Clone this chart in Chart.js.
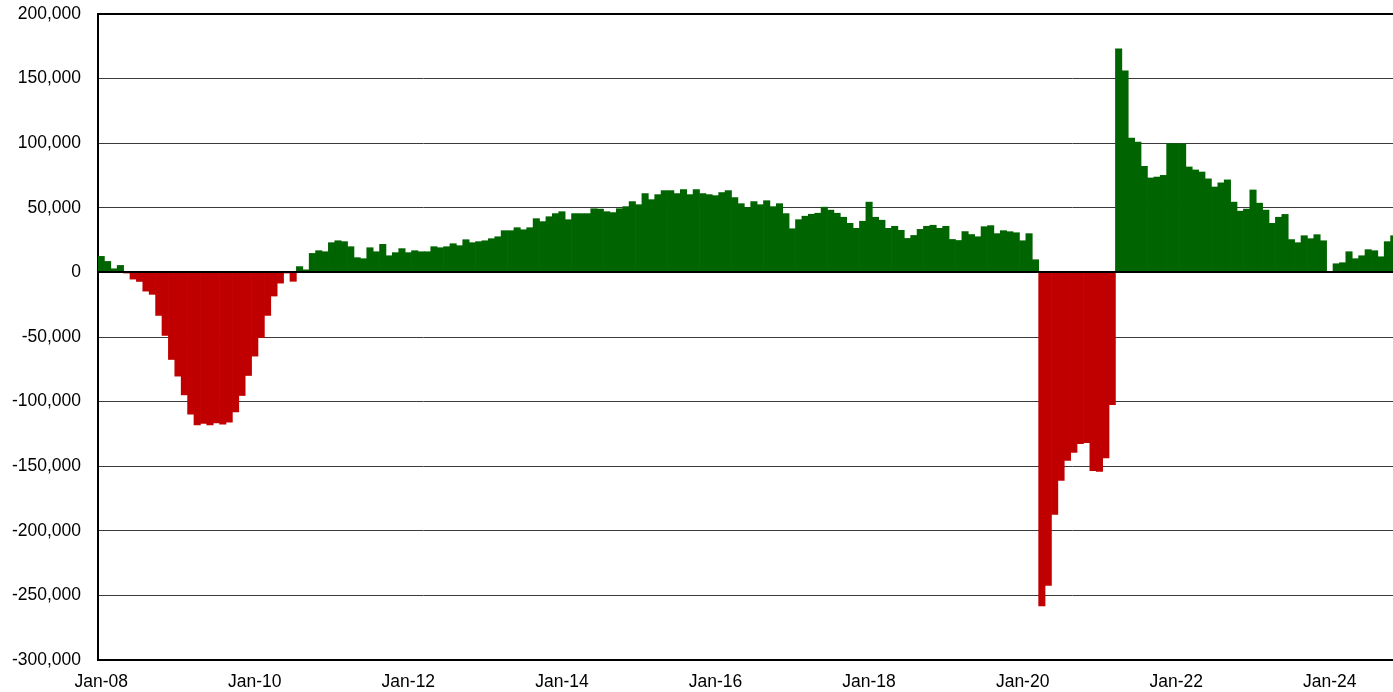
<!DOCTYPE html>
<html>
<head>
<meta charset="utf-8">
<script src="https://cdn.jsdelivr.net/npm/chart.js@4"></script>
<style>
  html, body { margin: 0; padding: 0; background: #fff; overflow: hidden; }
  #myChart { display: block; }
</style>
</head>
<body>
<canvas id="myChart" width="1397" height="692"></canvas>
<script>
// month labels, Jan-08 onwards (one bar per month)
var monthNames = ['Jan', 'Feb', 'Mar', 'Apr', 'May', 'Jun', 'Jul', 'Aug', 'Sep', 'Oct', 'Nov', 'Dec'];
var months = [];
for (var i = 0; i < 203; i++) {
    var yy = 8 + Math.floor(i / 12);
    months.push(monthNames[i % 12] + '-' + (yy < 10 ? '0' + yy : '' + yy));
}

// labels shown on the x axis
var tickLabels = ['Jan-08', 'Jan-10', 'Jan-12', 'Jan-14', 'Jan-16', 'Jan-18', 'Jan-20', 'Jan-22', 'Jan-24'];

// year-over-year change
var yoyChange = [
    12400, 8500, 2800, 5400, -500, -5200, -7000, -14500, -17000, -33300, -48800, -67400,
    -80300, -94800, -109800, -118000, -116800, -118000, -116500, -117500, -116000, -108000, -95300, -79800,
    -64800, -50400, -33300, -18300, -8300, -500, -6900, 4500, 2000, 14700, 16800, 16000,
    23000, 24500, 23800, 19900, 11400, 10600, 19100, 16000, 21700, 12900, 15300, 18400,
    15300, 16800, 16000, 16000, 19900, 19100, 19900, 22200, 20700, 25300, 23000, 23800,
    24500, 26100, 27600, 32300, 32300, 34600, 33000, 34600, 41600, 39300, 43100, 45500,
    47000, 40800, 45500, 45500, 45500, 49300, 49000, 47000, 46300, 49300, 50900, 54800,
    52400, 61000, 56300, 60200, 63300, 63300, 61000, 64100, 60200, 64100, 61000, 60200,
    59400, 61800, 63300, 57900, 53200, 50100, 54800, 52400, 55500, 50900, 53200, 45500,
    33800, 40800, 43500, 45000, 45800, 50500, 48200, 45800, 42700, 38000, 34100, 39600,
    54400, 42700, 40400, 34100, 35700, 32600, 26300, 28600, 33300, 35700, 36500, 34100,
    35700, 25500, 24700, 31600, 29300, 27600, 35400, 36200, 30000, 32300, 31500, 30700,
    24500, 30000, 9800, -258200, -242300, -187400, -161100, -145600, -139400, -132500, -131700, -153400,
    -154100, -143600, -102300, 173000, 156000, 103900, 100800, 82100, 73100, 73800, 75100, 99700,
    99500, 99500, 81600, 79300, 77700, 72400, 66100, 69300, 71600, 54400, 47400, 49000,
    63800, 53600, 48200, 38000, 42700, 44900, 25400, 23000, 28400, 26100, 29200, 24500,
    500, 6700, 7500, 16000, 10600, 12900, 17600, 16800, 12100, 23800, 28400
];

var barColors = yoyChange.map(function (v) { return v < 0 ? '#c00000' : '#006400'; });

// thick black line at zero, drawn over the bars
var zeroLine = {
    id: 'zeroLine',
    afterDatasetsDraw: function (chart) {
        var c = chart.ctx, a = chart.chartArea;
        var y = Math.round(chart.scales.y.getPixelForValue(0));
        c.save();
        c.strokeStyle = '#000';
        c.lineWidth = 2;
        c.beginPath();
        c.moveTo(a.left, y);
        c.lineTo(a.right, y);
        c.stroke();
        c.restore();
    }
};

var ctx = document.getElementById('myChart').getContext('2d');
var chart = new Chart(ctx, {
    type: 'bar',
    data: {
        labels: months,
        datasets: [{
            data: yoyChange,
            backgroundColor: barColors,
            borderWidth: 0,
            barPercentage: 1,
            categoryPercentage: 1
        }]
    },
    plugins: [zeroLine],
    options: {
        responsive: false,
        animation: false,
        layout: { padding: { top: 14, left: 0, right: 0, bottom: 0 } },
        plugins: {
            legend: { display: false },
            title: { display: false },
            tooltip: { enabled: false }
        },
        scales: {
            x: {
                grid: { display: false, drawTicks: false },
                border: { display: true, color: '#000', width: 2 },
                ticks: {
                    autoSkip: false,
                    maxRotation: 0,
                    padding: 12,
                    color: '#000',
                    font: { family: 'Liberation Sans, Arial, sans-serif', size: 17.5 },
                    callback: function (val, idx) {
                        var lab = months[idx];
                        return tickLabels.indexOf(lab) >= 0 ? lab : '';
                    }
                },
                afterFit: function (s) {
                    s.height = 32;
                    s.paddingLeft = 0;
                    s.paddingRight = 0;
                }
            },
            y: {
                min: -300000,
                max: 200000,
                grid: {
                    drawTicks: false,
                    color: function (c) {
                        var v = c.tick && c.tick.value;
                        return (v === 200000 || v === -300000) ? '#000' : '#3a3a3a';
                    },
                    lineWidth: function (c) {
                        var v = c.tick && c.tick.value;
                        return (v === 200000 || v === -300000) ? 2 : 1;
                    }
                },
                border: { display: true, color: '#000', width: 2 },
                ticks: {
                    stepSize: 50000,
                    padding: 17,
                    color: '#000',
                    font: { family: 'Liberation Sans, Arial, sans-serif', size: 17.5 },
                    callback: function (v) { return v.toLocaleString('en-US'); }
                },
                afterFit: function (s) {
                    s.width = 98;
                    s.paddingTop = 0;
                    s.paddingBottom = 0;
                }
            }
        }
    }
});
</script>
</body>
</html>
